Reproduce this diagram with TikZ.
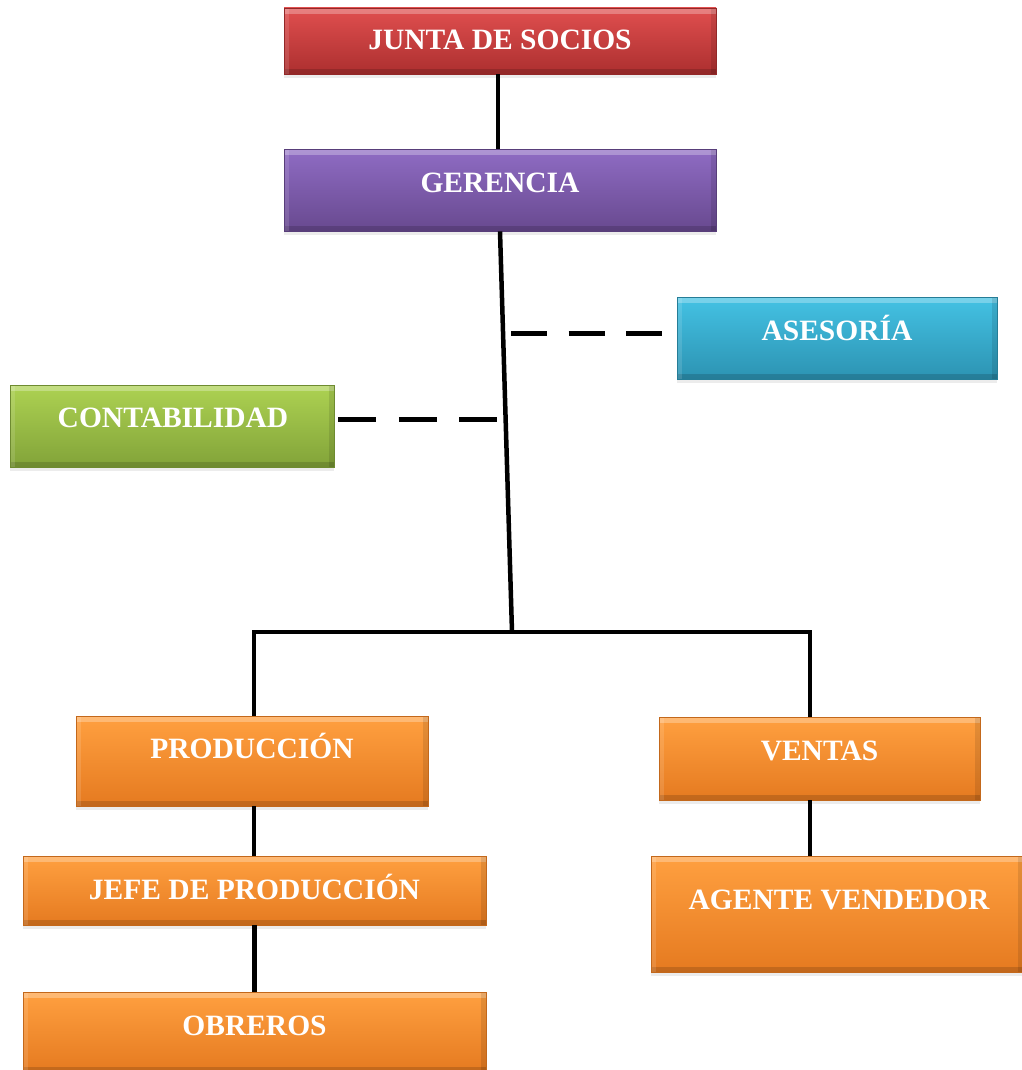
\documentclass[tikz,border=0pt]{standalone}
\usepackage{fontspec}
\setmainfont{Liberation Serif}
\usetikzlibrary{shadows}
\definecolor{rTop}{HTML}{E04F4F}\definecolor{rBot}{HTML}{AC2F2F}
\definecolor{pTop}{HTML}{8F6CC4}\definecolor{pBot}{HTML}{68498F}
\definecolor{cTop}{HTML}{44C2E4}\definecolor{cBot}{HTML}{2C93B2}
\definecolor{gTop}{HTML}{ADD252}\definecolor{gBot}{HTML}{82A339}
\definecolor{oTop}{HTML}{FFA040}\definecolor{oBot}{HTML}{E57A20}
\tikzset{
  box/.style n args={3}{rectangle, minimum width=#1, minimum height=#2, inner sep=0pt,
    top color=#3Top, bottom color=#3Bot, draw=#3Bot!85!black, line width=0.8pt,
    drop shadow={opacity=0.15, shadow xshift=0pt, shadow yshift=-4pt},
    path picture={
      \fill[white,opacity=0.28] (path picture bounding box.north west) rectangle ([yshift=-6pt]path picture bounding box.north east);
      \fill[black,opacity=0.15] (path picture bounding box.south west) rectangle ([yshift=5pt]path picture bounding box.south east);
      \fill[white,opacity=0.12] (path picture bounding box.north west) rectangle ([xshift=5pt]path picture bounding box.south west);
      \fill[black,opacity=0.10] (path picture bounding box.north east) rectangle ([xshift=-5pt]path picture bounding box.south east);
    }},
  lbl/.style={anchor=base, text=white, font=\bfseries\fontsize{29.5}{32}\selectfont, inner sep=0pt},
  conn/.style={line width=4.5pt, black},
  dashconn/.style={line width=5pt, black, dash pattern=on 36pt off 21.5pt},
  dashconnL/.style={line width=5pt, black, dash pattern=on 38pt off 22.5pt}
}
\begin{document}
\begin{tikzpicture}[x=1pt,y=-1pt]
\useasboundingbox (0,0) rectangle (1021,1070);
% boxes
\node[box={432pt}{66pt}{r}] (J) at (500,41) {};
\node[box={432pt}{82pt}{p}] (G) at (500,190) {};
\node[box={320pt}{82pt}{c}] (A) at (837,338) {};
\node[box={324pt}{82pt}{g}] (C) at (172,426) {};
\node[box={352pt}{90pt}{o}] (P) at (252,761) {};
\node[box={321pt}{83pt}{o}] (V) at (819.5,758.5) {};
\node[box={463pt}{69pt}{o}] (JP) at (254.5,890.5) {};
\node[box={372pt}{116pt}{o}] (AV) at (837,914) {};
\node[box={463pt}{80pt}{o}] (O) at (254.5,1032) {};
% labels
\node[lbl] at (500,50) {JUNTA DE SOCIOS};
\node[lbl] at (500,192) {GERENCIA};
\node[lbl] at (837,340) {ASESORÍA};
\node[lbl] at (173,427) {CONTABILIDAD};
\node[lbl] at (252,758) {PRODUCCIÓN};
\node[lbl] at (819.5,760) {VENTAS};
\node[lbl] at (254.5,899) {JEFE DE PRODUCCIÓN};
\node[lbl] at (839,909) {AGENTE VENDEDOR};
\node[lbl] at (254.5,1035) {OBREROS};
% connectors
\coordinate (hub) at (512,632);
\coordinate (barL) at (252,632);
\coordinate (barR) at (812,632);
\coordinate (aL) at (511,333);
\coordinate (cR) at (497,419);
\path ([xshift=-12pt]A.west) coordinate (aE);
\path ([xshift=4pt]C.east) coordinate (cE);
\draw[conn] ([xshift=-2pt]J.south) -- ([xshift=-2pt]G.north);
\draw[conn] (G.south) -- (hub);
\draw[conn] (barL) -- (barR);
\draw[conn] ([xshift=2pt]P.north |- barL) -- ([xshift=2pt]P.north);
\draw[conn] ([xshift=-9.5pt]V.north |- barR) -- ([xshift=-9.5pt]V.north);
\draw[conn] ([xshift=2pt]P.south) -- ([xshift=2pt]P.south |- JP.north);
\draw[conn] (JP.south) -- (O.north);
\draw[conn] ([xshift=-9.5pt]V.south) -- ([xshift=-9.5pt]V.south |- AV.north);
\draw[dashconn] (aL) -- (aL -| aE);
\draw[dashconnL] (cR -| cE) -- (cR);
\end{tikzpicture}
\end{document}
